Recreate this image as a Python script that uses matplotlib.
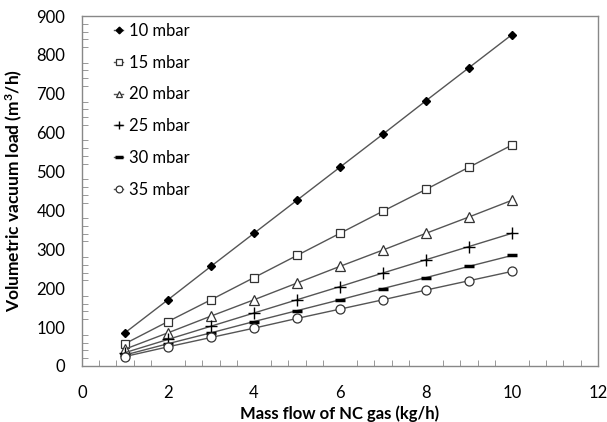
import numpy as np
import matplotlib
matplotlib.use("Agg")
import matplotlib.pyplot as plt
from matplotlib.ticker import MultipleLocator

plt.rcParams['font.family'] = ['Lato', 'DejaVu Sans']
plt.rcParams['mathtext.default'] = 'regular'

mass_flow = [1, 2, 3, 4, 5, 6, 7, 8, 9, 10]
load_10 = [85, 170, 256, 341, 426, 511, 596, 682, 767, 852]
load_15 = [57, 114, 170, 227, 284, 341, 398, 454, 511, 568]
load_20 = [43, 85, 128, 170, 213, 256, 298, 341, 383, 426]
load_25 = [34, 68, 102, 136, 170, 204, 239, 273, 307, 341]
load_30 = [28, 57, 85, 114, 142, 170, 199, 227, 256, 284]
load_35 = [24, 49, 73, 97, 122, 146, 170, 195, 219, 243]
labels = ['10 mbar', '15 mbar', '20 mbar', '25 mbar', '30 mbar', '35 mbar']

fig = plt.figure(figsize=(6.07, 4.22), dpi=100)
ax = fig.add_axes([0.135, 0.133, 0.85, 0.829])

line_c = '#555555'
styles = [
    dict(marker='D', markersize=4.5, mfc='black', mec='black'),
    dict(marker='s', markersize=6, mfc='white', mec='#333333', mew=0.9),
    dict(marker='^', markersize=6.5, mfc='white', mec='#333333', mew=0.9),
    dict(marker='+', markersize=8, mfc='none', mec='black', mew=1.0),
    dict(marker='_', markersize=7.5, mfc='none', mec='black', mew=2.5),
    dict(marker='o', markersize=6.5, mfc='white', mec='#333333', mew=0.9),
]
series = [load_10, load_15, load_20, load_25, load_30, load_35]
for ys, lab, st in zip(series, labels, styles):
    ax.plot(mass_flow, ys, color=line_c, lw=1.0, label=lab, **st)

ax.set_xlim(0, 12)
ax.set_ylim(0, 900)
ax.xaxis.set_major_locator(MultipleLocator(2))
ax.xaxis.set_minor_locator(MultipleLocator(0.4))
ax.yaxis.set_major_locator(MultipleLocator(100))
ax.yaxis.set_minor_locator(MultipleLocator(20))
ax.tick_params(which='both', direction='in', top=False, right=False,
               color='#888888', labelsize=12)
ax.tick_params(which='major', length=0)
ax.tick_params(which='minor', length=4)
ax.tick_params(axis='x', pad=14)
ax.tick_params(axis='y', pad=12)
for s in ax.spines.values():
    s.set_color('#888888')
    s.set_linewidth(1.0)

ax.set_xlabel('Mass flow of NC gas (kg/h)', fontsize=12, fontweight='bold', labelpad=3)
ax.set_ylabel('Volumetric vacuum load (m$^3$/h)', fontsize=12.5, fontweight='bold', labelpad=8)

ax.legend(loc='upper left', frameon=False, fontsize=12, handlelength=0.5,
          handletextpad=0.4, labelspacing=0.95, borderaxespad=0.0,
          markerscale=0.75, bbox_to_anchor=(0.05, 1.0))

fig.savefig('out.png', dpi=100)
